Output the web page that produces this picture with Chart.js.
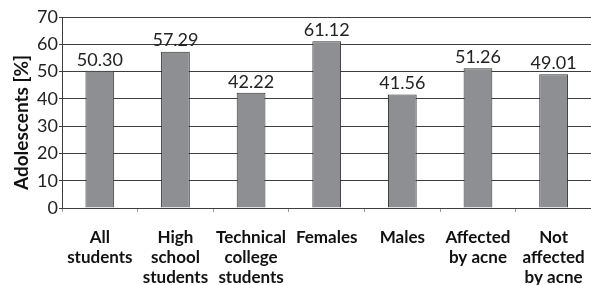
<!DOCTYPE html>
<html>
<head>
<meta charset="utf-8">
<script src="https://cdn.jsdelivr.net/npm/chart.js@4/dist/chart.umd.min.js"></script>
<style>
    html, body { margin: 0; padding: 0; background: #fff; overflow: hidden; }
    #wrap { width: 600px; height: 285px; }
</style>
</head>
<body>
<div id="wrap"><canvas id="acne-chart"></canvas></div>
<script>
    // Chart data
    var categories = [
        ['All', 'students'],
        ['High', 'school', 'students'],
        ['Technical', 'college', 'students'],
        ['Females'],
        ['Males'],
        ['Affected', 'by acne'],
        ['Not', 'affected', 'by acne']
    ];
    var percentages = [50.30, 57.29, 42.22, 61.12, 41.56, 51.26, 49.01];
    var yTicks = [0, 10, 20, 30, 40, 50, 60, 70];
    var yTitle = 'Adolescents [%]';

    var barFill = '#8e8f93';
    var barEdge = '#353535';
    var gridColor = '#3e3e3e';

    // Writes the value above every bar and the y title.
    var valueLabels = {
        id: 'valueLabels',
        afterDatasetsDraw: function(chart) {
            var ctx = chart.ctx;
            var meta = chart.getDatasetMeta(0);
            ctx.save();
            ctx.font = '18px Lato';
            ctx.fillStyle = '#222';
            ctx.textAlign = 'center';
            ctx.textBaseline = 'bottom';
            meta.data.forEach(function(bar, i) {
                ctx.fillText(percentages[i].toFixed(2), bar.x, bar.y - 2);
            });
            ctx.restore();

            // y title sits a bit lower than the plot centre
            var area = chart.chartArea;
            ctx.save();
            ctx.translate(22, (area.top + area.bottom) / 2 + 10);
            ctx.rotate(-Math.PI / 2);
            ctx.font = 'bold 19px Lato';
            ctx.fillStyle = '#111';
            ctx.textAlign = 'center';
            ctx.textBaseline = 'middle';
            ctx.fillText(yTitle, 0, 0);
            ctx.restore();
        }
    };

    new Chart(document.getElementById('acne-chart').getContext('2d'), {
        type: 'bar',
        data: {
            labels: categories,
            datasets: [{
                data: percentages,
                backgroundColor: barFill,
                borderColor: barEdge,
                borderWidth: 1,
                barPercentage: 0.38,
                categoryPercentage: 1
            }]
        },
        options: {
            responsive: true,
            maintainAspectRatio: false,
            animation: false,
            layout: { padding: { top: 17, right: 5, left: 0, bottom: 0 } },
            plugins: {
                legend: { display: false },
                tooltip: { enabled: false }
            },
            scales: {
                x: {
                    offset: true,
                    grid: {
                        offset: true,
                        drawOnChartArea: false,
                        color: '#999',
                        tickLength: 4
                    },
                    border: { color: gridColor },
                    ticks: {
                        color: '#111',
                        font: { family: 'Lato', size: 17, weight: 'bold', lineHeight: 1.18 },
                        maxRotation: 0,
                        autoSkip: false,
                        padding: 15
                    },
                    afterFit: function(scale) { scale.height = 77; }
                },
                y: {
                    min: 0,
                    max: 70,
                    afterBuildTicks: function(scale) {
                        scale.ticks = yTicks.map(function(v) { return { value: v }; });
                    },
                    grid: { color: gridColor, tickLength: 3 },
                    border: { color: gridColor },
                    ticks: {
                        color: '#222',
                        font: { family: 'Lato', size: 18 },
                        padding: 1
                    },
                    afterFit: function(scale) { scale.width = 62; }
                }
            }
        },
        plugins: [valueLabels]
    });
</script>
</body>
</html>
